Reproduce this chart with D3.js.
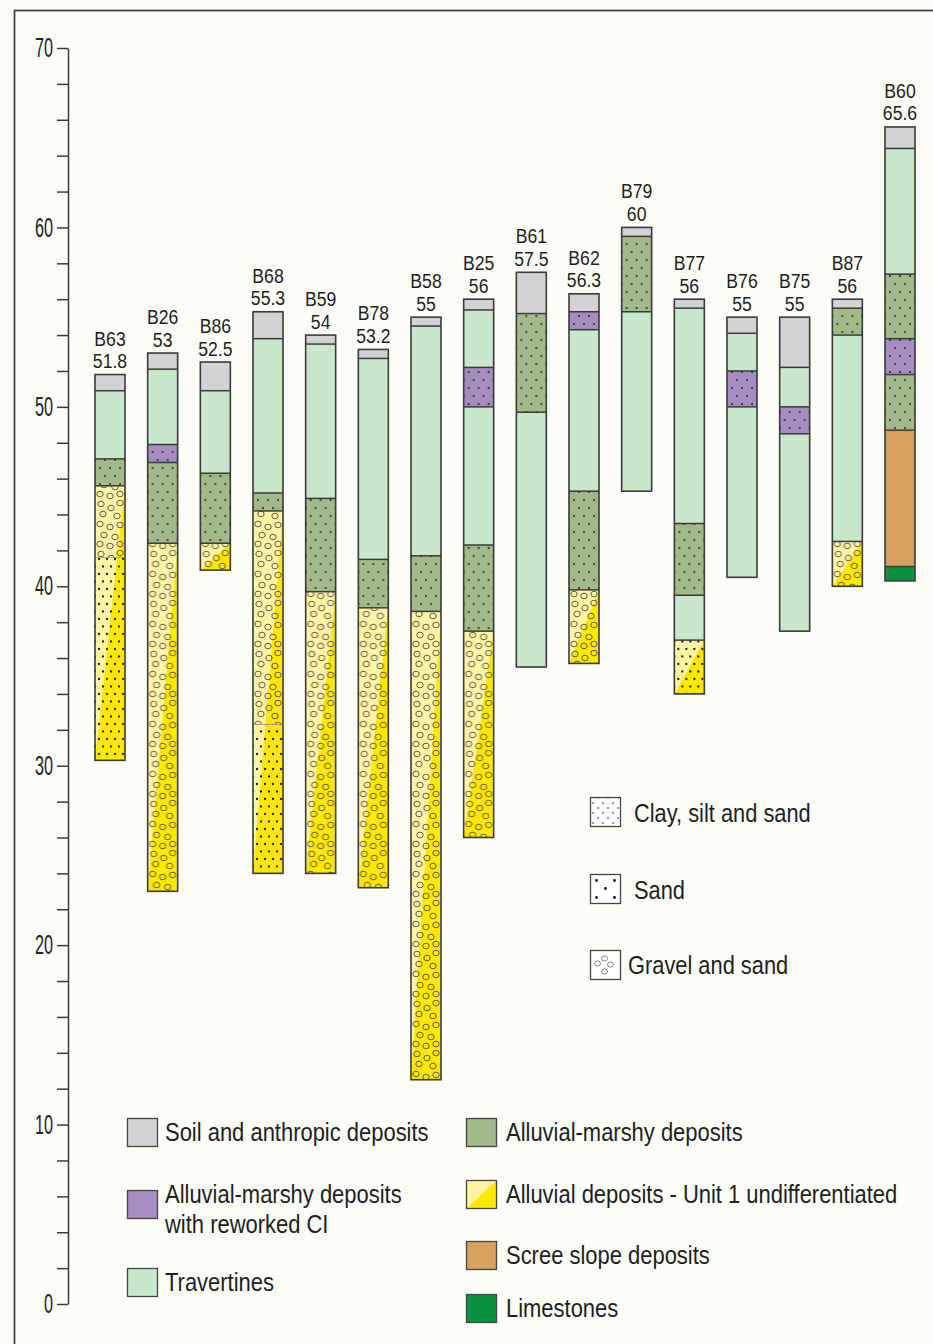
<!DOCTYPE html>
<html>
<head>
<meta charset="utf-8">
<script src="https://cdn.jsdelivr.net/npm/d3@7"></script>
<style>
  html, body { margin: 0; padding: 0; background: #fdfdf8; }
  svg { display: block; }
</style>
</head>
<body>
<svg id="chart" width="933" height="1344"></svg>
<script>
// Borehole names and ground elevations (m a.s.l.)
const boreholes = ["B63", "B26", "B86", "B68", "B59", "B78", "B58", "B25",
                   "B61", "B62", "B79", "B77", "B76", "B75", "B87", "B60"];
const topElevations = [51.8, 53, 52.5, 55.3, 54, 53.2, 55, 56,
                       57.5, 56.3, 60, 56, 55, 55, 56, 65.6];

// Stratigraphic units, top to bottom, for each borehole
// S soil, T travertine, M alluvial-marshy, P marshy with reworked CI,
// Yg / Ys alluvial Unit 1 (gravel-sand / sand), R scree, L limestone
const layerUnits = [
  ["S", "T", "M", "Yg", "Ys"],
  ["S", "T", "P", "M", "Yg"],
  ["S", "T", "M", "Yg"],
  ["S", "T", "M", "Yg", "Ys"],
  ["S", "T", "M", "Yg"],
  ["S", "T", "M", "Yg"],
  ["S", "T", "M", "Yg"],
  ["S", "T", "P", "T", "M", "Yg"],
  ["S", "M", "T"],
  ["S", "P", "T", "M", "Yg"],
  ["S", "M", "T"],
  ["S", "T", "M", "T", "Ys"],
  ["S", "T", "P", "T"],
  ["S", "T", "P", "T"],
  ["S", "M", "T", "Yg"],
  ["S", "T", "M", "P", "M", "R", "L"]
];

// Base elevation of each layer (m a.s.l.)
const layerBases = [
  [50.9, 47.1, 45.6, 41.6, 30.3],
  [52.1, 47.9, 46.9, 42.4, 23],
  [50.9, 46.3, 42.4, 40.9],
  [53.8, 45.2, 44.2, 32.3, 24],
  [53.5, 44.9, 39.7, 24],
  [52.7, 41.5, 38.8, 23.2],
  [54.5, 41.7, 38.6, 12.5],
  [55.4, 52.2, 50, 42.3, 37.5, 26],
  [55.2, 49.7, 35.5],
  [55.3, 54.3, 45.3, 39.8, 35.7],
  [59.5, 55.3, 45.3],
  [55.5, 43.5, 39.5, 37, 34],
  [54.1, 52, 50, 40.5],
  [52.2, 50, 48.5, 37.5],
  [55.5, 54, 42.5, 40],
  [64.4, 57.4, 53.8, 51.8, 48.7, 41.1, 40.3]
];

const yTickValues = d3.range(0, 71, 2);

// Legend entries
const unitLegendLeft = [
  { unit: "S", lines: ["Soil and anthropic deposits"] },
  { unit: "P", lines: ["Alluvial-marshy deposits", "with reworked CI"] },
  { unit: "T", lines: ["Travertines"] }
];
const unitLegendRight = [
  { unit: "M", lines: ["Alluvial-marshy deposits"] },
  { unit: "Y", lines: ["Alluvial deposits - Unit 1 undifferentiated"] },
  { unit: "R", lines: ["Scree slope deposits"] },
  { unit: "L", lines: ["Limestones"] }
];
const textureLegend = ["Clay, silt and sand", "Sand", "Gravel and sand"];

// ---------- styling ----------
const unitFill = {
  S: "#d3d3d3", T: "#c9e7ca", M: "#a2b98a", P: "#a68cbf",
  Yg: "#fff3a4", Ys: "#fff3a4", Y: "#fff3a4", R: "#d7a260", L: "#0b923f"
};
const brightYellow = "#ffe800";
const unitTexture = { M: "silt", P: "silt", Yg: "gravel", Ys: "sand" };
const stroke = "#3a3a3a";
const font = "'Liberation Sans', Arial, sans-serif";

const svg = d3.select("#chart");
const defs = svg.append("defs");

// Condensed text: drawn at origin, then placed and narrowed horizontally
function label(parent, x, y, str, size, anchor, sx) {
  return parent.append("text")
    .attr("transform", `translate(${x},${y}) scale(${sx},1)`)
    .attr("text-anchor", anchor)
    .attr("font-family", font).attr("font-size", size).attr("fill", "#1e1e1e")
    .text(str);
}

svg.append("rect").attr("width", 933).attr("height", 1344).attr("fill", "#fdfdf8");
svg.append("rect")
  .attr("x", 14.5).attr("y", 10.5).attr("width", 1000).attr("height", 1400)
  .attr("fill", "none").attr("stroke", "#444").attr("stroke-width", 1.8);

const y = d3.scaleLinear().domain([0, 70]).range([1304, 48]);
const x = d3.scalePoint().domain(boreholes).range([110, 900]);
const colW = 30;

// ---------- texture patterns ----------
function dotPattern(id, ox, w, h, pts, r) {
  const p = defs.append("pattern").attr("id", id)
    .attr("patternUnits", "userSpaceOnUse")
    .attr("x", ox).attr("y", 0).attr("width", w).attr("height", h);
  pts.forEach(([px, py]) => p.append("circle").attr("cx", px).attr("cy", py)
    .attr("r", r).attr("fill", "#1a1a1a"));
}
const siltPts = [[5, 4], [15, 4], [0, 12], [10, 12], [20, 12]];
const sandPts = [[4, 4], [12, 4], [0, 11.5], [8, 11.5], [16, 11.5]];
const gravelPts = [[6, 4], [16, 8], [25, 3], [8, 14], [22, 16],
                   [5, 24], [15, 27], [25, 25], [9, 35], [20, 37],
                   [5, 44], [15, 46], [25, 44]];
function gravelPattern(id, ox) {
  const p = defs.append("pattern").attr("id", id)
    .attr("patternUnits", "userSpaceOnUse")
    .attr("x", ox).attr("y", 0).attr("width", 30).attr("height", 50);
  gravelPts.forEach(([px, py]) => p.append("ellipse").attr("cx", px).attr("cy", py)
    .attr("rx", 3.2).attr("ry", 2.8).attr("fill", "none")
    .attr("stroke", "#4a4a4a").attr("stroke-width", 0.9));
}

// ---------- axis ----------
const axis = svg.append("g")
  .attr("transform", "translate(68,0)")
  .call(d3.axisLeft(y).tickValues(yTickValues).tickSize(11).tickSizeOuter(0)
    .tickFormat(d => d % 10 === 0 ? d : ""));
axis.select(".domain").attr("stroke", stroke).attr("stroke-width", 1.5);
axis.selectAll(".tick line").attr("stroke", stroke).attr("stroke-width", 1.5);
axis.selectAll(".tick text")
  .attr("x", 0)
  .attr("transform", "translate(-15,0) scale(0.6,1)")
  .attr("font-family", font).attr("font-size", 27).attr("fill", "#222");

// ---------- borehole columns ----------
boreholes.forEach((name, i) => {
  const cx = x(name), left = cx - colW / 2;
  const g = svg.append("g");
  const segs = layerUnits[i].map((u, j) => ({
    unit: u,
    top: j === 0 ? topElevations[i] : layerBases[i][j - 1],
    base: layerBases[i][j]
  }));

  dotPattern("silt" + i, left, 20, 16, siltPts, 0.95);
  dotPattern("sand" + i, left, 16, 15, sandPts, 1.15);
  gravelPattern("gravel" + i, left);

  g.selectAll("rect.fill").data(segs).join("rect")
    .attr("class", "fill")
    .attr("x", left).attr("width", colW)
    .attr("y", d => y(d.top)).attr("height", d => y(d.base) - y(d.top))
    .attr("fill", d => unitFill[d.unit]);

  const yel = segs.filter(d => d.unit[0] === "Y");
  if (yel.length) {
    const yt = y(d3.max(yel, d => d.top)), yb = y(d3.min(yel, d => d.base));
    g.append("path")
      .attr("d", `M${left + colW},${yt}L${left + colW},${yb}L${left},${yb}Z`)
      .attr("fill", brightYellow);
  }

  g.selectAll("rect.tex").data(segs.filter(d => unitTexture[d.unit])).join("rect")
    .attr("class", "tex")
    .attr("x", left).attr("width", colW)
    .attr("y", d => y(d.top)).attr("height", d => y(d.base) - y(d.top))
    .attr("fill", d => `url(#${unitTexture[d.unit]}${i})`);

  g.selectAll("line.bound").data(segs.slice(1)).join("line")
    .attr("class", "bound")
    .attr("x1", left).attr("x2", left + colW)
    .attr("y1", d => y(d.top)).attr("y2", d => y(d.top))
    .attr("stroke", (d, k) => (d.unit[0] === "Y" && segs[k].unit[0] === "Y") ? "#9a9a9a" : stroke)
    .attr("stroke-width", (d, k) => (d.unit[0] === "Y" && segs[k].unit[0] === "Y") ? 0.9 : 1.5);

  g.append("rect")
    .attr("x", left).attr("width", colW)
    .attr("y", y(topElevations[i]))
    .attr("height", y(layerBases[i][layerBases[i].length - 1]) - y(topElevations[i]))
    .attr("fill", "none").attr("stroke", stroke).attr("stroke-width", 1.6);

  const ty = y(topElevations[i]);
  label(g, cx, ty - 29, name, 21, "middle", 0.84);
  label(g, cx, ty - 6.5, String(topElevations[i]), 21, "middle", 0.84);
});

// ---------- texture legend ----------
dotPattern("siltLegend", 590, 10, 10, [[3, 3], [8, 8]], 0.8);
const texRows = [797, 874, 950];
const texLeg = svg.append("g");
textureLegend.forEach((txt, k) => {
  const sx = 590.5, sy = texRows[k] + 0.5, sw = 30, sh = 29;
  const gg = texLeg.append("g");
  gg.append("rect").attr("x", sx).attr("y", sy).attr("width", sw).attr("height", sh)
    .attr("fill", "#fff").attr("stroke", "#444").attr("stroke-width", 1.3);
  if (k === 0) {
    gg.append("rect").attr("x", sx + 1).attr("y", sy + 1).attr("width", sw - 2).attr("height", sh - 2)
      .attr("fill", "url(#siltLegend)");
  } else if (k === 1) {
    [[6, 6], [24, 6], [15, 14], [6, 23], [24, 23]].forEach(([px, py]) =>
      gg.append("circle").attr("cx", sx + px).attr("cy", sy + py).attr("r", 1.4).attr("fill", "#111"));
  } else {
    [[7, 13], [14, 8], [20, 14], [14, 21]].forEach(([px, py]) =>
      gg.append("ellipse").attr("cx", sx + px).attr("cy", sy + py).attr("rx", 3).attr("ry", 2.6)
        .attr("fill", "none").attr("stroke", "#666").attr("stroke-width", 0.8));
  }
  label(gg, k === 2 ? 628 : 634, texRows[k] + (k === 2 ? 24 : 25), txt, 26, "start", 0.84);
});

// ---------- unit legend ----------
function unitSwatch(g, sx, sy, unit) {
  if (unit === "Y") {
    g.append("rect").attr("x", sx).attr("y", sy).attr("width", 30).attr("height", 28)
      .attr("fill", unitFill.Y);
    g.append("path").attr("d", `M${sx + 30},${sy}L${sx + 30},${sy + 28}L${sx},${sy + 28}Z`)
      .attr("fill", brightYellow);
    g.append("rect").attr("x", sx).attr("y", sy).attr("width", 30).attr("height", 28)
      .attr("fill", "none").attr("stroke", "#444").attr("stroke-width", 1.3);
  } else {
    g.append("rect").attr("x", sx).attr("y", sy).attr("width", 30).attr("height", 28)
      .attr("fill", unitFill[unit]).attr("stroke", "#444").attr("stroke-width", 1.3);
  }
}
const leftRows = [1118, 1190, 1268];
const rightRows = [1118, 1180, 1241, 1294];
const uleg = svg.append("g");
unitLegendLeft.forEach((e, k) => {
  unitSwatch(uleg, 127.5, leftRows[k] + 0.5, e.unit);
  e.lines.forEach((ln, m) => label(uleg, 165,
    (e.lines.length > 1 ? leftRows[k] + 13 : leftRows[k] + 23) + m * 30, ln, 26, "start", 0.845));
});
unitLegendRight.forEach((e, k) => {
  unitSwatch(uleg, 466.5, rightRows[k] + 0.5, e.unit);
  label(uleg, 506, rightRows[k] + 23, e.lines[0], 26, "start", 0.845);
});
</script>
</body>
</html>
